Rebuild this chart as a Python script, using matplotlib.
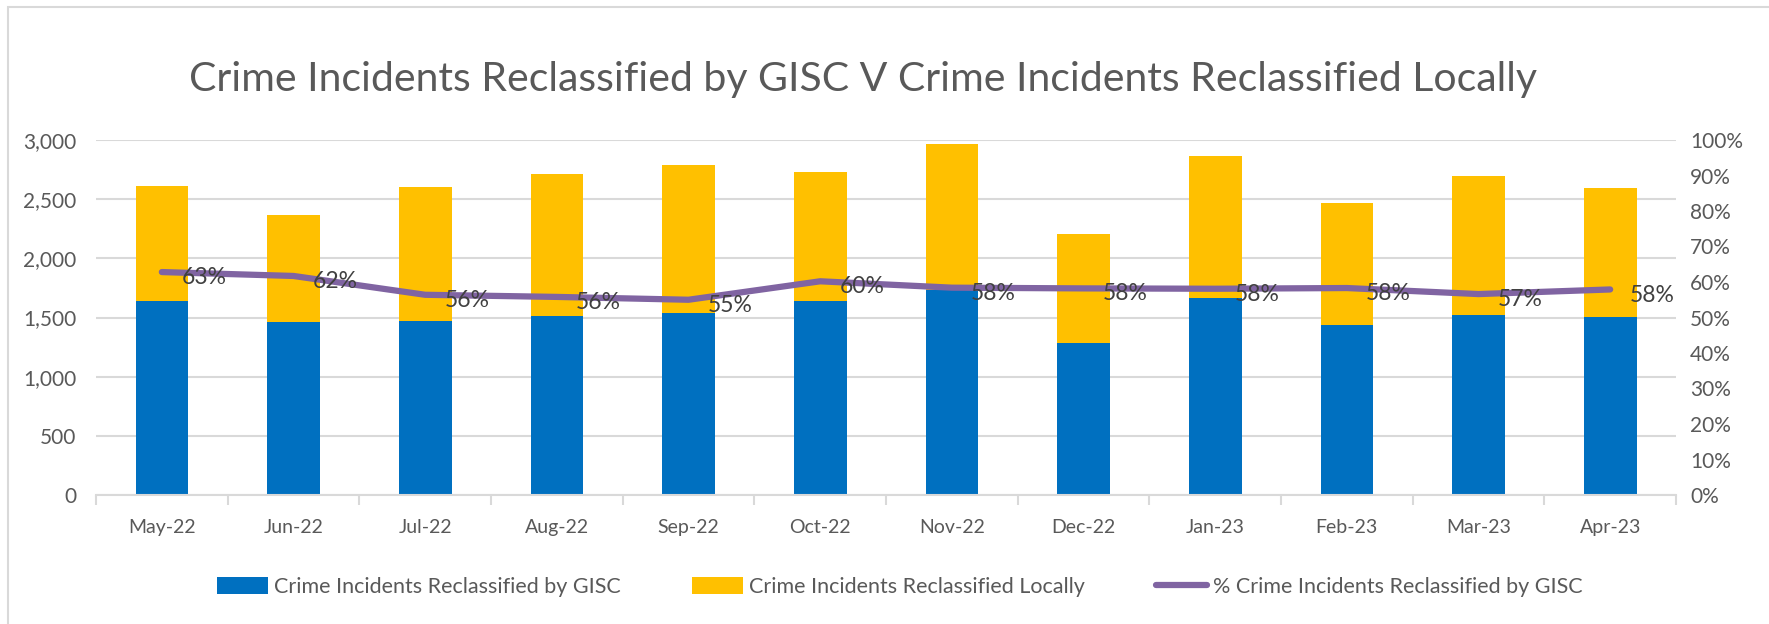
import matplotlib.pyplot as plt
from matplotlib.patches import Rectangle
from matplotlib.ticker import FuncFormatter, MultipleLocator
import numpy as np

plt.rcParams['font.family'] = ['Lato', 'DejaVu Sans']

months = ['May-22', 'Jun-22', 'Jul-22', 'Aug-22', 'Sep-22', 'Oct-22',
          'Nov-22', 'Dec-22', 'Jan-23', 'Feb-23', 'Mar-23', 'Apr-23']
by_gisc = [1642, 1459, 1470, 1513, 1535, 1642, 1732, 1285, 1665, 1437, 1524, 1501]
locally = [972, 907, 1136, 1200, 1254, 1085, 1231, 921, 1200, 1028, 1169, 1093]
pct_gisc = [0.628, 0.617, 0.564, 0.558, 0.550, 0.602, 0.584, 0.582, 0.581, 0.583, 0.566, 0.579]

blue = '#0070C0'
yellow = '#FFC000'
purple = '#8064A2'
grey_txt = '#595959'

fig = plt.figure(figsize=(17.69, 6.24), dpi=100)
fig.patches.append(Rectangle((8 / 1769, -0.1), 1.2, (617 + 62) / 624, transform=fig.transFigure,
                             fill=False, edgecolor='#D9D9D9', linewidth=1.5))

ax = fig.add_axes([96 / 1769, 129 / 624, 1580 / 1769, 355 / 624])
x = np.arange(len(months))
ax.bar(x, by_gisc, width=0.4, color=blue, zorder=2, label='Crime Incidents Reclassified by GISC')
ax.bar(x, locally, width=0.4, bottom=by_gisc, color=yellow, zorder=2,
       label='Crime Incidents Reclassified Locally')

ax.set_xlim(-0.5, len(months) - 0.5)
ax.set_ylim(0, 3000)
ax.yaxis.set_major_locator(MultipleLocator(500))
ax.yaxis.set_major_formatter(FuncFormatter(lambda v, p: f'{int(v):,}'))
ax.grid(axis='y', color='#D9D9D9', linewidth=1.5, zorder=0)
ax.set_axisbelow(True)
ax.set_xticks(x)
ax.set_xticklabels(months)
ax.set_xticks(np.arange(-0.5, len(months)), minor=True)
ax.tick_params(axis='x', which='major', length=0, pad=17, labelsize=14, labelcolor=grey_txt)
ax.tick_params(axis='x', which='minor', length=7, color='#D9D9D9', width=1.5)
ax.tick_params(axis='y', length=0, pad=14, labelsize=15, labelcolor=grey_txt)
for s in ['top', 'left', 'right']:
    ax.spines[s].set_visible(False)
ax.spines['bottom'].set_color('#D9D9D9')
ax.spines['bottom'].set_linewidth(1.5)

ax2 = ax.twinx()
ax2.plot(x, pct_gisc, color=purple, linewidth=4.5, solid_capstyle='round', zorder=3,
         label='% Crime Incidents Reclassified by GISC')
for xi, p in zip(x, pct_gisc):
    ax2.annotate(f'{p:.0%}', (xi, p), xytext=(14, -4), textcoords='offset points',
                 ha='left', va='center', fontsize=16.5, color='#404040')
ax2.set_ylim(0, 1)
ax2.yaxis.set_major_locator(MultipleLocator(0.1))
ax2.yaxis.set_major_formatter(FuncFormatter(lambda v, p: f'{v:.0%}'))
ax2.tick_params(axis='y', length=0, pad=10, labelsize=15, labelcolor=grey_txt)
for s in ax2.spines.values():
    s.set_visible(False)

fig.text(863 / 1769, 1 - 79 / 624,
         'Crime Incidents Reclassified by GISC V Crime Incidents Reclassified Locally',
         ha='center', va='center', fontsize=29.5, color=grey_txt)

h1, l1 = ax.get_legend_handles_labels()
h2, l2 = ax2.get_legend_handles_labels()
fig.legend(h1 + h2, l1 + l2, loc='center', bbox_to_anchor=(0.5085, 1 - 587 / 624), ncol=3,
           frameon=False, fontsize=15.5, labelcolor=grey_txt, handlelength=2.4,
           handleheight=0.8, columnspacing=3.3, handletextpad=0.25)

fig.savefig('out.png', dpi=100)
